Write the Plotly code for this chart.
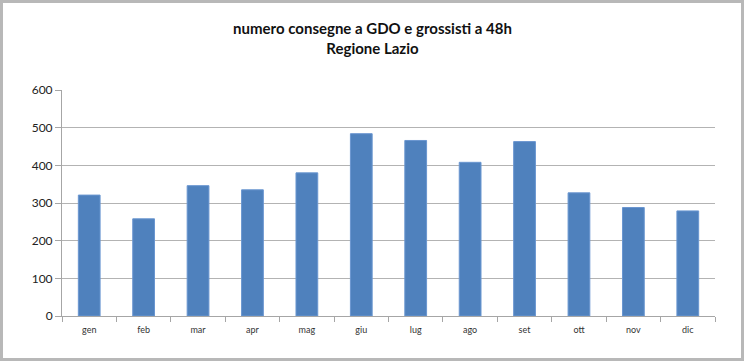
import plotly.graph_objects as go

months = ["gen", "feb", "mar", "apr", "mag", "giu", "lug", "ago", "set", "ott", "nov", "dic"]
consegne = [321, 258, 346, 335, 380, 484, 466, 408, 463, 327, 288, 279]
y_ticks = [0, 100, 200, 300, 400, 500, 600]

W, H = 745, 362
L, R, T, B = 62, 30, 90, 46
pw, ph = W - L - R, H - T - B

def px_to_paper_x(px):
    return (px - L) / pw

def px_to_paper_y(py):
    return (H - B - py) / ph

fig = go.Figure()
fig.add_trace(go.Bar(
    x=months, y=consegne,
    marker=dict(color="#4F81BD", line=dict(color="#6a96d0", width=1)),
    width=0.4,
))

fig.update_layout(
    width=W, height=H,
    margin=dict(l=L, r=R, t=T, b=B),
    paper_bgcolor="white", plot_bgcolor="white",
    showlegend=False,
    title=dict(
        text="numero consegne a GDO e grossisti a 48h<br>Regione Lazio",
        x=0.5, xanchor="center", y=0.906, yanchor="top",
        font=dict(family="Lato", size=15, color="#111111", weight="bold"),
    ),
    xaxis=dict(
        showgrid=False, showline=True, linecolor="#a6a6a6", linewidth=1,
        ticks="outside", tickson="boundaries", ticklen=5, tickcolor="#a6a6a6",
        ticklabelstandoff=5,
        tickfont=dict(family="Lato", size=9, color="#333333"),
        fixedrange=True,
    ),
    yaxis=dict(
        range=[0, 600], tickvals=y_ticks,
        showgrid=True, gridcolor="#b3b3b3", gridwidth=1,
        showline=True, linecolor="#a6a6a6", linewidth=1,
        ticks="outside", ticklen=6, tickcolor="#a6a6a6",
        ticklabelstandoff=0,
        tickfont=dict(family="Lato", size=12, color="#222222"),
        zeroline=False,
    ),
)

fig.add_shape(
    type="rect", xref="paper", yref="paper",
    x0=px_to_paper_x(1.5), x1=px_to_paper_x(742.5),
    y0=px_to_paper_y(359.5), y1=px_to_paper_y(1.5),
    line=dict(color="#b8b8b8", width=3), fillcolor="rgba(0,0,0,0)",
    layer="below",
)

fig.write_html(
    "out.html",
    config={"displayModeBar": False},
    post_script="document.body.style.margin='0';document.body.style.overflow='hidden';",
)
